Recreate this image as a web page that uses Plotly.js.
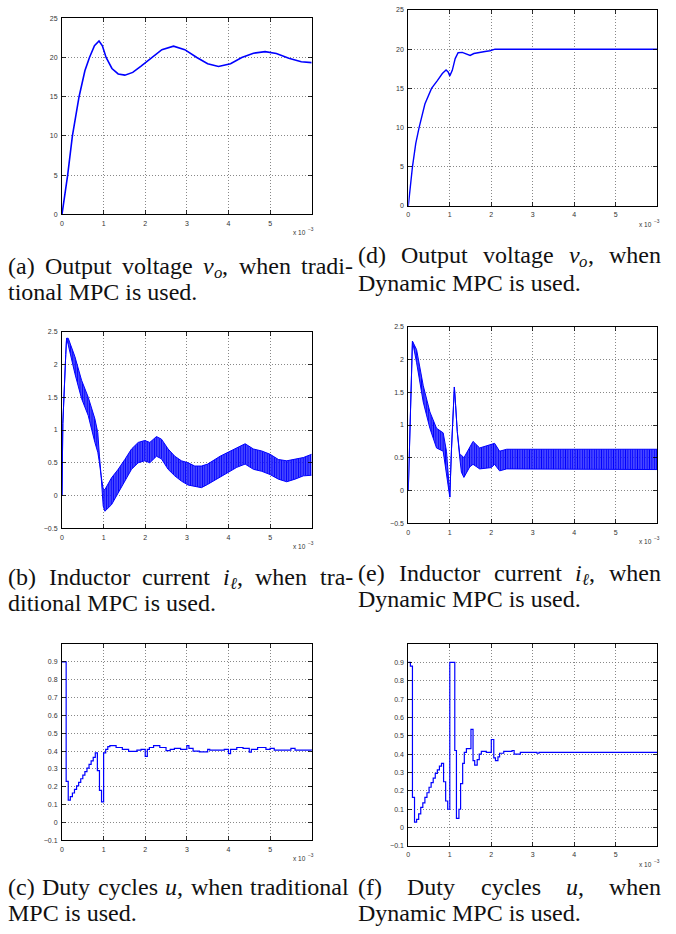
<!DOCTYPE html>
<html><head><meta charset="utf-8">
<script src="https://cdn.plot.ly/plotly-3.0.1.min.js"></script>
<style>html,body{margin:0;padding:0;background:#fff}</style>
</head><body><div id="chart" style="width:676px;height:934px"></div>
<script>
// ---------- DATA (time in units of 1e-3 s) ----------
// (a) output voltage, traditional MPC
const tA = [0,0.136,0.25,0.41,0.55,0.66,0.78,0.89,0.97,1.06,1.2,1.35,1.51,1.7,1.9,2.16,2.4,2.68,2.95,3.24,3.5,3.76,4.05,4.32,4.6,4.88,5.15,5.45,5.75,6.0];
const vA = [0,5,10,15,18.3,20,21.5,22.1,21.5,20,18.6,17.9,17.75,18.1,18.9,20,21.0,21.45,21.0,20,19.2,18.85,19.2,20.0,20.55,20.75,20.5,19.9,19.45,19.35];
// (d) output voltage, dynamic MPC
const tD = [0,0.05,0.10,0.18,0.26,0.4,0.56,0.7,0.82,0.91,0.96,1.0,1.06,1.13,1.2,1.3,1.4,1.49,1.58,1.7,1.85,1.97,2.09,3.0,6.0];
const vD = [0,2.5,5,8,10,13,15,16,16.9,17.35,17.1,16.6,17.3,18.8,19.55,19.6,19.35,19.2,19.45,19.6,19.7,19.8,20.0,20.0,20.0];
// (b) inductor current, traditional MPC: ripple envelope (upper / lower)
const tB  = [0,0.02,0.09,0.11,0.15,0.31,0.47,0.63,0.79,0.86,0.9,0.94,0.99,1.03,1.19,1.35,1.51,1.67,1.83,1.99,2.11,2.27,2.39,2.55,2.71,2.87,3.03,3.19,3.35,3.5,3.8,4.0,4.2,4.4,4.6,4.8,5.0,5.2,5.4,5.6,5.8,6.0];
const iBhi = [0,1.1,2.15,2.4,2.4,2.12,1.76,1.5,1.17,0.96,0.6,0.3,0.1,0.09,0.27,0.4,0.55,0.71,0.81,0.84,0.81,0.9,0.86,0.71,0.6,0.53,0.5,0.45,0.45,0.48,0.6,0.66,0.73,0.79,0.71,0.68,0.63,0.55,0.53,0.55,0.58,0.63];
const iBlo = [0,1.1,2.15,2.4,2.3,1.86,1.48,1.22,0.81,0.66,0.5,0.3,-0.16,-0.24,-0.14,0.04,0.24,0.4,0.5,0.53,0.5,0.6,0.56,0.4,0.3,0.22,0.16,0.14,0.12,0.17,0.28,0.35,0.43,0.48,0.4,0.37,0.32,0.25,0.21,0.25,0.3,0.31];
// (e) inductor current, dynamic MPC: ripple envelope (upper / lower)
const tE  = [0,0.1,0.2,0.36,0.52,0.68,0.84,0.92,0.98,1.0,1.04,1.08,1.11,1.14,1.18,1.24,1.28,1.34,1.48,1.56,1.72,2.0,2.08,2.2,2.37,6.0];
const iEhi = [0,2.28,2.15,1.6,1.2,0.95,0.88,0.6,0.1,-0.1,0.62,1.3,1.58,1.3,0.9,0.55,0.54,0.5,0.67,0.75,0.65,0.7,0.72,0.6,0.63,0.63];
const iElo = [0,2.28,1.95,1.35,0.95,0.65,0.6,0.22,-0.02,-0.1,0.62,1.3,1.58,1.3,0.9,0.5,0.28,0.2,0.36,0.4,0.33,0.35,0.4,0.3,0.33,0.32];
// (c) duty cycle, traditional MPC (held values from each time)
const tC = [0,0.1,0.15,0.2,0.25,0.3,0.35,0.4,0.45,0.5,0.55,0.6,0.65,0.7,0.75,0.8,0.85,0.9,0.95,1.0,1.05,1.1,1.15,1.3,1.45,1.6,1.8,1.9,2.0,2.05,2.1,2.2,2.35,2.5,2.6,2.7,2.85,3.0,3.05,3.15,3.3,3.5,3.55,3.7,3.9,4.0,4.05,4.2,4.35,4.5,4.55,4.7,4.9,5.0,5.1,5.3,5.5,5.6,5.8,6.0];
const uC = [0.9,0.23,0.125,0.145,0.165,0.185,0.205,0.225,0.245,0.265,0.285,0.305,0.325,0.345,0.365,0.39,0.29,0.18,0.115,0.39,0.41,0.425,0.43,0.42,0.41,0.398,0.405,0.41,0.37,0.41,0.42,0.43,0.42,0.402,0.41,0.415,0.41,0.43,0.415,0.40,0.395,0.41,0.405,0.405,0.41,0.386,0.41,0.42,0.415,0.394,0.41,0.42,0.41,0.415,0.405,0.405,0.415,0.405,0.405,0.41];
// (f) duty cycle, dynamic MPC
const tF = [0,0.05,0.1,0.15,0.2,0.25,0.3,0.35,0.4,0.45,0.5,0.55,0.6,0.65,0.7,0.75,0.8,0.85,0.9,0.95,1.0,1.12,1.16,1.22,1.26,1.31,1.35,1.4,1.51,1.56,1.6,1.66,1.71,1.76,1.88,2.0,2.06,2.1,2.16,2.2,2.3,2.5,2.55,2.7,3.1,3.15,6.0];
const uF = [0.9,0.88,0.165,0.03,0.045,0.075,0.11,0.135,0.165,0.19,0.22,0.245,0.27,0.295,0.315,0.335,0.35,0.25,0.145,0.10,0.9,0.42,0.05,0.10,0.24,0.35,0.41,0.43,0.535,0.365,0.34,0.37,0.40,0.415,0.41,0.48,0.38,0.365,0.385,0.405,0.415,0.42,0.40,0.41,0.405,0.41,0.41];
// axis ticks
const xTicks = [0,1,2,3,4,5];
const yTicksV = [0,5,10,15,20,25];
const yTicksI = [-0.5,0,0.5,1,1.5,2,2.5];
const yTicksU = [-0.1,0,0.1,0.2,0.3,0.4,0.5,0.6,0.7,0.8,0.9];

// ---------- LAYOUT ----------
const W=676,H=934;
const BLUE='#0000ff';
const TICKFAM='Liberation Sans, Arial, sans-serif';
// pixel boxes [left,right,top,bottom]
const box = {
  a:[62,311.7,18.3,214.3], d:[408.3,657.3,10,206],
  b:[62,311.7,331.7,528.3], e:[408.3,657.3,326.7,523.3],
  c:[62,311.7,644,840.3], f:[408.3,657.3,644,846]
};
const order = ['a','b','c','d','e','f'];
function base(){
  return {showline:true,linecolor:'#000',linewidth:1,mirror:'ticks',ticks:'inside',ticklen:4,
    tickcolor:'#000',tickwidth:0.8,showgrid:true,gridcolor:'#6a6a6a',griddash:'1px,2px',gridwidth:0.8,
    zeroline:false,fixedrange:true,tickfont:{family:TICKFAM,size:7,color:'#333'},
    ticklabelstandoff:2};
}
const yCfg = {
  a:{range:[0,25],tickvals:yTicksV}, d:{range:[0,25],tickvals:yTicksV},
  b:{range:[-0.5,2.5],tickvals:yTicksI}, e:{range:[-0.5,2.5],tickvals:yTicksI},
  c:{range:[-0.1,1.0],tickvals:yTicksU}, f:{range:[-0.1,1.0],tickvals:yTicksU}
};
const layout = {width:W,height:H,margin:{l:0,r:0,t:0,b:0},paper_bgcolor:'#fff',plot_bgcolor:'#fff',
  showlegend:false,annotations:[]};

const cv = document.createElement('canvas').getContext('2d');
function measure(t,size,fam,it){cv.font=(it?'italic ':'')+size+'px "'+fam+'"';return cv.measureText(t).width;}
function ann(x,yc,text,size,fam,it,anchor){
  layout.annotations.push({xref:'paper',yref:'paper',x:x/W,y:1-yc/H,xanchor:anchor||'left',yanchor:'middle',
    showarrow:false,borderpad:0,borderwidth:0,text:it?'<i>'+text+'</i>':text,
    font:{family:fam,size:size,color:'#111'}});
}

order.forEach((k,i)=>{
  const n=i+1, s=n===1?'':n, b=box[k];
  layout['xaxis'+s]=Object.assign(base(),{domain:[b[0]/W,b[1]/W],anchor:'y'+s,range:[0,6],tickvals:xTicks});
  layout['yaxis'+s]=Object.assign(base(),{domain:[1-b[3]/H,1-b[2]/H],anchor:'x'+s},yCfg[k]);
  // "x 10^-3" multiplier label
  const expW = measure('−3',4.8,'Liberation Sans');
  const xr = b[1]+1, yc = b[3]+18;
  layout.annotations.push({xref:'paper',yref:'paper',x:(xr-expW-0.3)/W,y:1-yc/H,xanchor:'right',yanchor:'middle',showarrow:false,
    borderpad:0,text:'x 10',font:{family:TICKFAM,size:6.5,color:'#333'}});
  layout.annotations.push({xref:'paper',yref:'paper',x:(xr-expW)/W,y:1-(yc-3)/H,xanchor:'left',yanchor:'middle',showarrow:false,
    borderpad:0,text:'−3',font:{family:TICKFAM,size:4.8,color:'#333'}});
});

const traces = [];
function line(x,y,s,shape,w){traces.push({x:x,y:y,xaxis:'x'+s,yaxis:'y'+s,mode:'lines',line:{color:BLUE,width:w||1.2,shape:shape||'linear'},hoverinfo:'skip'});}
function band(x,lo,hi,s){
  traces.push({x:x,y:lo,xaxis:'x'+s,yaxis:'y'+s,mode:'lines',line:{color:BLUE,width:1},hoverinfo:'skip'});
  traces.push({x:x,y:hi,xaxis:'x'+s,yaxis:'y'+s,mode:'lines',line:{color:BLUE,width:1},fill:'tonexty',
    fillcolor:'rgba(0,0,255,0.8)',fillpattern:{shape:'|',size:2.4,solidity:0.65,fgcolor:'#0000ff',bgcolor:'rgba(50,50,255,0.6)'},hoverinfo:'skip'});
}
line(tA,vA,'','linear',1.6);
band(tB,iBlo,iBhi,2);
line(tC,uC,3,'hv',1.2);
line(tD,vD,4,'linear',1.4);
band(tE,iElo,iEhi,5);
line(tF,uF,6,'hv',1.2);

// ---------- CAPTIONS ----------
const CF = 24, CFAM = 'Liberation Serif';
// a word is a list of segments [text, scale, italic, subscript]
function segW(s){return measure(s[0],CF*s[1],CFAM,s[2]);}
function wordW(w){return w.reduce((a,s)=>a+segW(s),0);}
function placeWord(w,x,yc){
  w.forEach(s=>{ann(x,yc+(s[3]?0.26*CF:0),s[0],CF*s[1],CFAM,s[2]);x+=segW(s);});
}
function justified(words,x0,x1,yc){
  const ws=words.map(wordW), tot=ws.reduce((a,b)=>a+b,0);
  const gap=Math.max(0.25*CF,(x1-x0-tot)/(words.length-1));
  let x=x0; words.forEach((w,i)=>{placeWord(w,x,yc);x+=ws[i]+gap;});
}
function P(t){return [[t,1,false,false]];}
const vo=[['v',1,true,false],['o',0.7,true,true],[',',1,false,false]];
const il=[['i',1,true,false],['ℓ',0.7,true,true],[',',1,false,false]];
const uu=[['u',1,true,false],[',',1,false,false]];
function plain(x,yc,t){ann(x,yc,t,CF,CFAM,false);}
justified([P('(a)'),P('Output'),P('voltage'),vo,P('when'),P('tradi-')],8,353,266);
plain(8,292,'tional MPC is used.');
justified([P('(d)'),P('Output'),P('voltage'),vo,P('when')],358,661,255);
plain(358,283,'Dynamic MPC is used.');
justified([P('(b)'),P('Inductor'),P('current'),il,P('when'),P('tra-')],8,353,577);
plain(8,603,'ditional MPC is used.');
justified([P('(e)'),P('Inductor'),P('current'),il,P('when')],358,661,573);
plain(358,599,'Dynamic MPC is used.');
justified([P('(c)'),P('Duty'),P('cycles'),uu,P('when'),P('traditional')],8,349,887);
plain(8,913,'MPC is used.');
justified([P('(f)'),P('Duty'),P('cycles'),uu,P('when')],358,661,887);
plain(358,913,'Dynamic MPC is used.');

Plotly.newPlot('chart',traces,layout,{staticPlot:true,displayModeBar:false});
</script></body></html>
